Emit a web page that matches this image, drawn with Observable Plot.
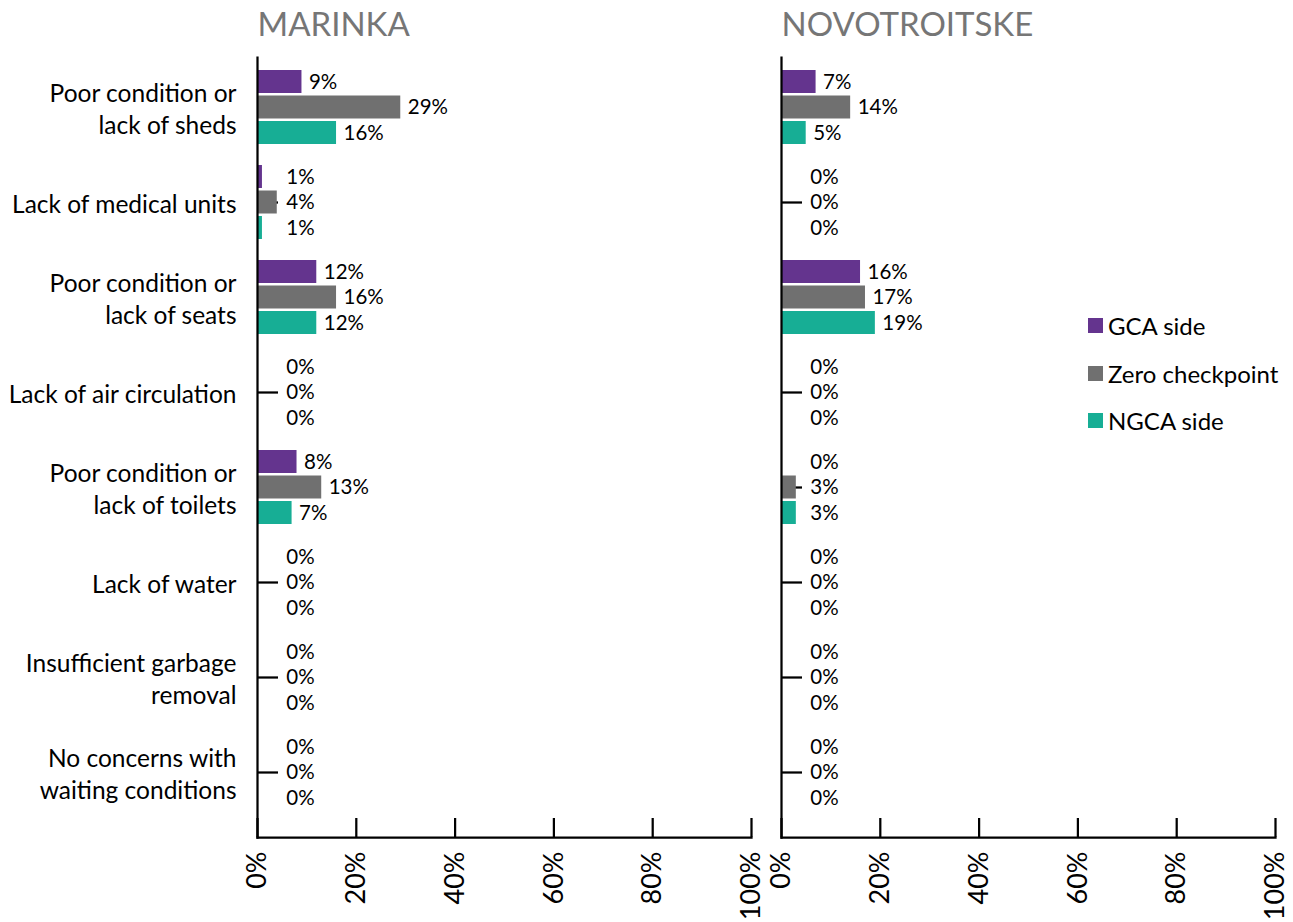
<!DOCTYPE html>
<html>
<head>
<meta charset="utf-8">
<script src="https://cdn.jsdelivr.net/npm/d3@7"></script>
<script src="https://cdn.jsdelivr.net/npm/@observablehq/plot@0.6"></script>
<style>
  html, body { margin: 0; padding: 0; background: #fff; }
  #wrap { position: relative; width: 1293px; height: 922px; font-family: Lato, "Open Sans", sans-serif; }
  #legend { position: absolute; left: 1088px; top: 302px; font-size: 24px; color: #000; }
  #legend .item { display: flex; align-items: center; height: 47.5px; }
  #legend .sw { width: 15px; height: 15px; margin-right: 5px; }
</style>
</head>
<body>
<div id="wrap"><div id="chart"></div><div id="legend"></div></div>
<script>
const locations = ["MARINKA", "NOVOTROITSKE"];
const categories = [
  "Poor condition or lack of sheds",
  "Lack of medical units",
  "Poor condition or lack of seats",
  "Lack of air circulation",
  "Poor condition or lack of toilets",
  "Lack of water",
  "Insufficient garbage removal",
  "No concerns with waiting conditions"
];
const categoryTickLabels = [
  "Poor condition or\nlack of sheds",
  "Lack of medical units",
  "Poor condition or\nlack of seats",
  "Lack of air circulation",
  "Poor condition or\nlack of toilets",
  "Lack of water",
  "Insufficient garbage\nremoval",
  "No concerns with\nwaiting conditions"
];
const seriesNames = ["GCA side", "Zero checkpoint", "NGCA side"];
const seriesColors = ["#64348E", "#707070", "#17AE95"];

const marinkaGCA  = [9, 1, 12, 0, 8, 0, 0, 0];
const marinkaZero = [29, 4, 16, 0, 13, 0, 0, 0];
const marinkaNGCA = [16, 1, 12, 0, 7, 0, 0, 0];
const novoGCA  = [7, 0, 16, 0, 0, 0, 0, 0];
const novoZero = [14, 0, 17, 0, 3, 0, 0, 0];
const novoNGCA = [5, 0, 19, 0, 3, 0, 0, 0];

const xTicks = [0, 20, 40, 60, 80, 100];

const seriesByLocation = {
  "MARINKA": [marinkaGCA, marinkaZero, marinkaNGCA],
  "NOVOTROITSKE": [novoGCA, novoZero, novoNGCA]
};
const rows = [];
for (const loc of locations) {
  seriesByLocation[loc].forEach((vals, si) => {
    vals.forEach((v, ci) => rows.push({location: loc, category: categories[ci], series: seriesNames[si], si, value: v}));
  });
}

// layout styles
const barH = 23, barStep = 25.5, groupH = 74;
const labelMin = 4.4; // labels of tiny bars sit past the axis tick
const yTickLen = 4.25; // inward category tick, in % units

const marks = [];
marks.push(Plot.ruleY(categories, {y: d => d, x1: 0, x2: yTickLen, stroke: "#000", strokeWidth: 2.25}));
seriesNames.forEach((s, si) => {
  marks.push(Plot.barX(rows.filter(r => r.si === si), {
    fx: "location", y: "category", x: "value",
    fill: seriesColors[si],
    insetTop: si * (groupH - barH) / 2,
    insetBottom: (2 - si) * (groupH - barH) / 2
  }));
  marks.push(Plot.text(rows.filter(r => r.si === si), {
    fx: "location", y: "category", x: d => Math.max(d.value, labelMin),
    text: d => d.value + "%", textAnchor: "start", dx: 7, dy: (si - 1) * barStep,
    fontSize: 20.5, fill: "#000"
  }));
});
marks.push(Plot.tickX(xTicks, {x: d => d, insetTop: 780 - 19, stroke: "#000", strokeWidth: 2.25}));
marks.push(Plot.frame({anchor: "left", stroke: "#000", strokeWidth: 2.25}));
marks.push(Plot.frame({anchor: "bottom", stroke: "#000", strokeWidth: 2.25}));
marks.push(Plot.axisX({ticks: xTicks, tickFormat: d => d + "%", tickRotate: -90, tickSize: 0, tickPadding: 14, fontSize: 27, fill: "#000", label: null}));
marks.push(Plot.axisY({anchor: "left", tickSize: 0, tickPadding: 21, fontSize: 24.5, lineHeight: 1.3, fill: "#000", label: null,
  tickFormat: d => categoryTickLabels[categories.indexOf(d)]}));
marks.push(Plot.text(locations, {fx: d => d, text: d => d, frameAnchor: "top-left", textAnchor: "start", lineAnchor: "middle", dy: -32, fontSize: 33, fontWeight: 400, fill: "#767676", style: "letter-spacing:3px"}));

const chart = Plot.plot({
  width: 1293, height: 922,
  marginLeft: 257, marginRight: 18, marginTop: 57, marginBottom: 85,
  style: {fontFamily: "Lato, 'Open Sans', sans-serif", color: "#000", background: "#fff"},
  fx: {domain: locations, paddingInner: 30 / 524, paddingOuter: 0, axis: null, label: null},
  x: {domain: [0, 100], axis: null, label: null},
  y: {domain: categories, paddingInner: 21.5 / 95.5, paddingOuter: 21.5 / 95.5 / 2, insetTop: 0, insetBottom: 16, axis: null, label: null},
  marks
});
document.getElementById("chart").appendChild(chart);

const legend = document.getElementById("legend");
seriesNames.forEach((s, i) => {
  const it = document.createElement("div");
  it.className = "item";
  it.innerHTML = `<span class="sw" style="background:${seriesColors[i]}"></span><span>${s}</span>`;
  legend.appendChild(it);
});
</script>
</body>
</html>
